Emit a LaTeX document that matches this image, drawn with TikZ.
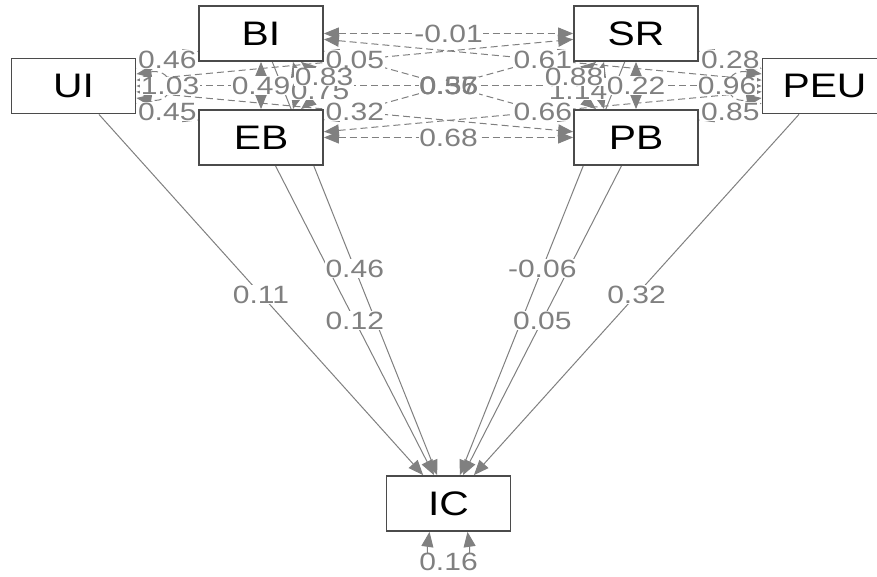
\documentclass[tikz,border=0pt]{standalone}
\usepackage{fontspec}
\setmainfont{Liberation Sans}[FakeStretch=1.2]
\usetikzlibrary{arrows.meta,calc,backgrounds}
\definecolor{edgegray}{RGB}{128,128,128}
\definecolor{labgray}{RGB}{128,128,128}
\definecolor{boxline}{RGB}{75,75,75}
\begin{document}
\begin{tikzpicture}[x=1pt,y=1pt,
  var/.style={draw=boxline, line width=1.8pt, fill=white, minimum width=124pt,
    minimum height=55pt, inner sep=0pt, font=\fontsize{34}{34}\selectfont},
  elab/.style={fill=white, inner sep=0.6pt, text=labgray, font=\fontsize{25}{25}\selectfont},
  tip/.tip={Triangle[length=15pt,width=12pt]},
  reg/.style={draw=edgegray, line width=1pt, -tip},
  cov/.style={draw=edgegray, line width=1pt, dash pattern=on 7pt off 4pt, tip-tip},
  res/.style={draw=edgegray, line width=1pt, tip-tip}]
\useasboundingbox (0,0) rectangle (877,-577);
\clip (0,0) rectangle (877,-577);

% variables
\node[var] (UI)  at (73.5,-86)   {UI};
\node[var] (BI)  at (261,-33.5)  {BI};
\node[var] (EB)  at (261,-137.5) {EB};
\node[var] (SR)  at (636,-33.5)  {SR};
\node[var] (PB)  at (636,-137.5) {PB};
\node[var] (PEU) at (824.5,-86)  {PEU};
\node[var] (IC)  at (448.5,-503.5) {IC};

\begin{pgfonlayer}{background}
\fill[white] (0,0) rectangle (877,-577);
% regressions on IC
\draw[reg] (UI) -- (IC);
\draw[reg] (BI) -- (IC);
\draw[reg] (EB) -- (IC);
\draw[reg] (SR) -- (IC);
\draw[reg] (PB) -- (IC);
\draw[reg] (PEU) -- (IC);
% covariances
\draw[cov] (UI) -- (BI);
\draw[cov] (UI) -- (EB);
\draw[cov] (UI) -- (SR);
\draw[cov] (UI) -- (PB);
\draw[cov] (UI) -- (PEU);
\draw[cov] (BI) -- (EB);
\draw[cov] (BI) -- (SR);
\draw[cov] (BI) -- (PB);
\draw[cov] (BI) -- (PEU);
\draw[cov] (EB) -- (SR);
\draw[cov] (EB) -- (PB);
\draw[cov] (EB) -- (PEU);
\draw[cov] (SR) -- (PB);
\draw[cov] (SR) -- (PEU);
\draw[cov] (PB) -- (PEU);
% variances
\draw[cov] ([yshift=12pt]UI.east) .. controls +(40pt,6pt) and +(40pt,-6pt) .. ([yshift=-12pt]UI.east);
\draw[cov] ([yshift=12pt]PEU.west) .. controls +(-40pt,6pt) and +(-40pt,-6pt) .. ([yshift=-12pt]PEU.west);
\draw[cov] ([xshift=32pt]BI.south) .. controls +(6pt,-22pt) and +(20pt,-16pt) .. ([xshift=40pt]BI.south);
\draw[cov] ([xshift=32pt]EB.north) .. controls +(6pt,22pt) and +(20pt,16pt) .. ([xshift=40pt]EB.north);
\draw[cov] ([xshift=-32pt]SR.south) .. controls +(-6pt,-22pt) and +(-20pt,-16pt) .. ([xshift=-40pt]SR.south);
\draw[cov] ([xshift=-32pt]PB.north) .. controls +(-6pt,22pt) and +(-20pt,16pt) .. ([xshift=-40pt]PB.north);
\draw[res] ([xshift=-19pt]IC.south) .. controls +(-6pt,-42pt) and +(6pt,-42pt) .. ([xshift=19pt]IC.south);
\end{pgfonlayer}

% regression estimates
\node[elab] at ($(UI)!0.5!(IC)$)  {0.11};
\node[elab] at ($(BI)!0.5!(IC)$)  {0.46};
\node[elab] at ($(EB)!0.5!(IC)$)  {0.12};
\node[elab] at ($(SR)!0.5!(IC)$)  {-0.06};
\node[elab] at ($(PB)!0.5!(IC)$)  {0.05};
\node[elab] at ($(PEU)!0.5!(IC)$) {0.32};
% covariance estimates
\node[elab] at ($(UI)!0.5!(BI)$)  {0.46};
\node[elab] at ($(UI)!0.5!(EB)$)  {0.45};
\node[elab] at ($(UI)!0.5!(SR)$)  {0.05};
\node[elab] at ($(UI)!0.5!(PB)$)  {0.32};
\node[elab] at ($(BI)!0.5!(EB)$)  {0.49};
\node[elab] at ($(BI)!0.5!(SR)$)  {-0.01};
\node[elab] at ($(BI)!0.5!(PEU)$) {0.61};
\node[elab] at ($(EB)!0.5!(PB)$)  {0.68};
\node[elab] at ($(EB)!0.5!(PEU)$) {0.66};
\node[elab] at ($(SR)!0.5!(PB)$)  {0.22};
\node[elab] at ($(SR)!0.5!(PEU)$) {0.28};
\node[elab] at ($(PB)!0.5!(PEU)$) {0.85};
\node[elab] at ($(UI)!0.5!(PEU)$) {0.55};
\node[elab, fill=none] at ($(BI)!0.5!(PB)$) {0.37};
\node[elab, fill=none] at ($(EB)!0.5!(SR)$) {0.56};
% variance estimates
\node[elab] at (170,-86)   {1.03};
\node[elab] at (727,-86)   {0.96};
\node[elab] at (320,-91)   {0.75};
\node[elab] at (324,-77)   {0.83};
\node[elab] at (578,-91)   {1.14};
\node[elab] at (574,-77)   {0.88};
\node[elab] at (448.5,-562) {0.16};
\end{tikzpicture}
\end{document}
